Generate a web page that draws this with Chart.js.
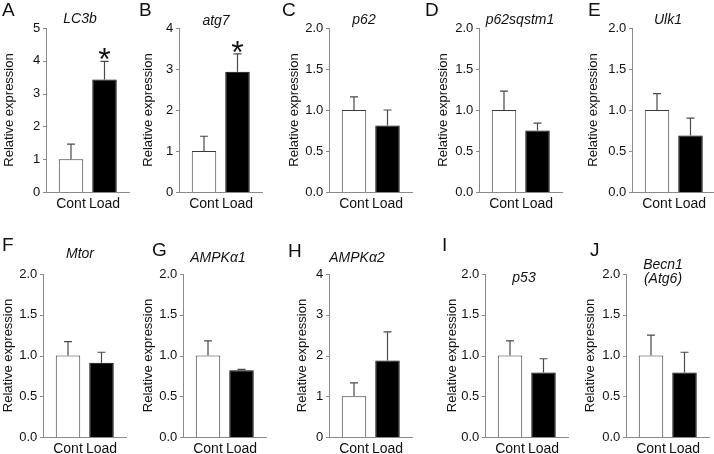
<!DOCTYPE html>
<html>
<head>
<meta charset="utf-8">
<script src="https://cdn.jsdelivr.net/npm/chart.js@4.4.1/dist/chart.umd.min.js"></script>
<style>
  html, body { margin: 0; padding: 0; background: #fff; }
  #wrap { position: relative; width: 714px; height: 454px; overflow: hidden; background: #fff; }
  #wrap canvas { position: absolute; }
</style>
</head>
<body>
<div id="wrap"></div>
<script>
// data
var categories = ['Cont', 'Load'];
var panelLetters = ['A', 'B', 'C', 'D', 'E', 'F', 'G', 'H', 'I', 'J'];
var genes = ['LC3b', 'atg7', 'p62', 'p62sqstm1', 'Ulk1', 'Mtor', 'AMPKα1', 'AMPKα2', 'p53', ['Becn1', '(Atg6)']];
var contMean = [1, 1, 1, 1, 1, 1, 1, 1, 1, 1];
var loadMean = [3.43, 2.93, 0.81, 0.75, 0.69, 0.91, 0.82, 1.88, 0.79, 0.79];
var contErrTop = [1.46, 1.36, 1.16, 1.23, 1.2, 1.17, 1.18, 1.33, 1.18, 1.25];
var loadErrTop = [3.98, 3.37, 1.0, 0.84, 0.9, 1.04, 0.83, 2.58, 0.96, 1.04];
var yMax = [5, 4, 2, 2, 2, 2, 2, 4, 2, 2];
var yStep = [1, 1, 0.5, 0.5, 0.5, 0.5, 0.5, 1, 0.5, 0.5];
var significant = [true, true, false, false, false, false, false, false, false, false];

// layout (page pixels)
var axisX = [46, 179, 329, 479, 632, 43, 183, 329, 485, 626];
var rowTop = [28, 274];
var rowBottom = [192, 437];
var letterPos = [[2, 16], [139, 16], [282, 16], [425, 16], [588, 16], [2, 251], [152, 256], [288, 257], [442, 251], [590, 256]];
var titlePos = [[80, 19], [216, 21], [364, 20], [520, 20], [668, 20], [80, 254], [218, 258], [357, 258], [524, 278], [663, 265]];
var yTitleDx = [-37, -31, -35, -36, -39, -35, -35, -27, -33, -36];

var FONT = '"Liberation Sans", Arial, Helvetica, sans-serif';
var LEFT = 56, TOP = 46, BOTTOM = 26, W = 144;
var INSET = 8.25, AREA_W = 67;

var decor = {
    id: 'decor',
    afterDraw: function (chart) {
        var i = chart.options.plugins.decor.index;
        var ctx = chart.ctx;
        var ca = chart.chartArea;
        var ys = chart.scales.y;
        var ox = axisX[i] - LEFT, oy = rowTop[i < 5 ? 0 : 1] - TOP;
        var ax = ca.left - INSET;

        ctx.save();
        // axes
        ctx.strokeStyle = '#8a8a8a';
        ctx.lineWidth = 1;
        ctx.beginPath();
        ctx.moveTo(ax + 0.5, ys.getPixelForValue(yMax[i]));
        ctx.lineTo(ax + 0.5, ca.bottom);
        ctx.moveTo(ax, ca.bottom + 0.5);
        ctx.lineTo(ax + 84, ca.bottom + 0.5);
        ys.ticks.forEach(function (t) {
            var y = Math.round(ys.getPixelForValue(t.value)) + 0.5;
            ctx.moveTo(ax - 3, y);
            ctx.lineTo(ax, y);
        });
        ctx.stroke();

        // error bars (upper only)
        var meta = chart.getDatasetMeta(0);
        var tops = [contErrTop[i], loadErrTop[i]];
        ctx.strokeStyle = '#4a4a4a';
        ctx.lineWidth = 1.2;
        meta.data.forEach(function (bar, k) {
            var yTop = ys.getPixelForValue(tops[k]);
            ctx.beginPath();
            ctx.moveTo(bar.x, bar.y);
            ctx.lineTo(bar.x, yTop);
            ctx.moveTo(bar.x - 4, yTop);
            ctx.lineTo(bar.x + 4, yTop);
            ctx.stroke();
        });

        // significance mark
        if (significant[i]) {
            var b = meta.data[1];
            ctx.fillStyle = '#111';
            ctx.font = '32px ' + FONT;
            ctx.textAlign = 'center';
            ctx.textBaseline = 'alphabetic';
            ctx.fillText('*', b.x, ys.getPixelForValue(loadErrTop[i]) - 9 + 18);
        }

        // gene title
        ctx.fillStyle = '#111';
        ctx.font = 'italic 14px ' + FONT;
        ctx.textAlign = 'center';
        ctx.textBaseline = 'middle';
        var lines = [].concat(genes[i]);
        lines.forEach(function (s, n) {
            ctx.fillText(s, titlePos[i][0] - ox, titlePos[i][1] - oy + n * 14);
        });

        // panel letter
        ctx.font = '19px ' + FONT;
        ctx.textAlign = 'left';
        ctx.textBaseline = 'alphabetic';
        ctx.fillText(panelLetters[i], letterPos[i][0] - ox, letterPos[i][1] - oy);

        // y title
        ctx.font = '13px ' + FONT;
        ctx.textAlign = 'center';
        ctx.textBaseline = 'middle';
        ctx.translate(ax + yTitleDx[i], (ca.top + ca.bottom) / 2);
        ctx.rotate(-Math.PI / 2);
        ctx.fillText('Relative expression', 0, 0);
        ctx.restore();
    }
};

var wrap = document.getElementById('wrap');

for (var i = 0; i < 10; i++) {
    var row = i < 5 ? 0 : 1;
    var plotH = rowBottom[row] - rowTop[row];
    var cv = document.createElement('canvas');
    cv.width = W;
    cv.height = TOP + plotH + BOTTOM;
    cv.style.left = (axisX[i] - LEFT) + 'px';
    cv.style.top = (rowTop[row] - TOP) + 'px';
    wrap.appendChild(cv);

    var dec = yStep[i] < 1 ? 1 : 0;
    new Chart(cv.getContext('2d'), {
        type: 'bar',
        data: {
            labels: categories,
            datasets: [{
                data: [contMean[i], loadMean[i]],
                backgroundColor: ['#ffffff', '#000000'],
                borderColor: ['#3a3a3a', '#000000'],
                borderWidth: 1,
                barPercentage: 0.73,
                categoryPercentage: 1
            }]
        },
        options: {
            responsive: false,
            animation: false,
            devicePixelRatio: 1,
            layout: { padding: { left: 0, top: TOP, right: W - (LEFT + INSET + AREA_W), bottom: 0 } },
            plugins: {
                legend: { display: false },
                tooltip: { enabled: false },
                decor: { index: i }
            },
            scales: {
                x: {
                    grid: { display: false, drawTicks: false },
                    border: { display: false },
                    ticks: {
                        color: '#111',
                        font: { family: FONT, size: 14 },
                        padding: 4,
                        maxRotation: 0,
                        minRotation: 0,
                        autoSkip: false
                    },
                    afterFit: function (s) { s.height = BOTTOM; }
                },
                y: {
                    min: 0,
                    max: yMax[i],
                    grid: { display: false, drawTicks: false },
                    border: { display: false },
                    ticks: {
                        stepSize: yStep[i],
                        color: '#111',
                        font: { family: FONT, size: 13 },
                        padding: 14,
                        callback: (function (d) { return function (v) { return v.toFixed(d); }; })(dec)
                    },
                    afterFit: function (s) { s.width = LEFT + INSET; }
                }
            }
        },
        plugins: [decor]
    });
}
</script>
</body>
</html>
